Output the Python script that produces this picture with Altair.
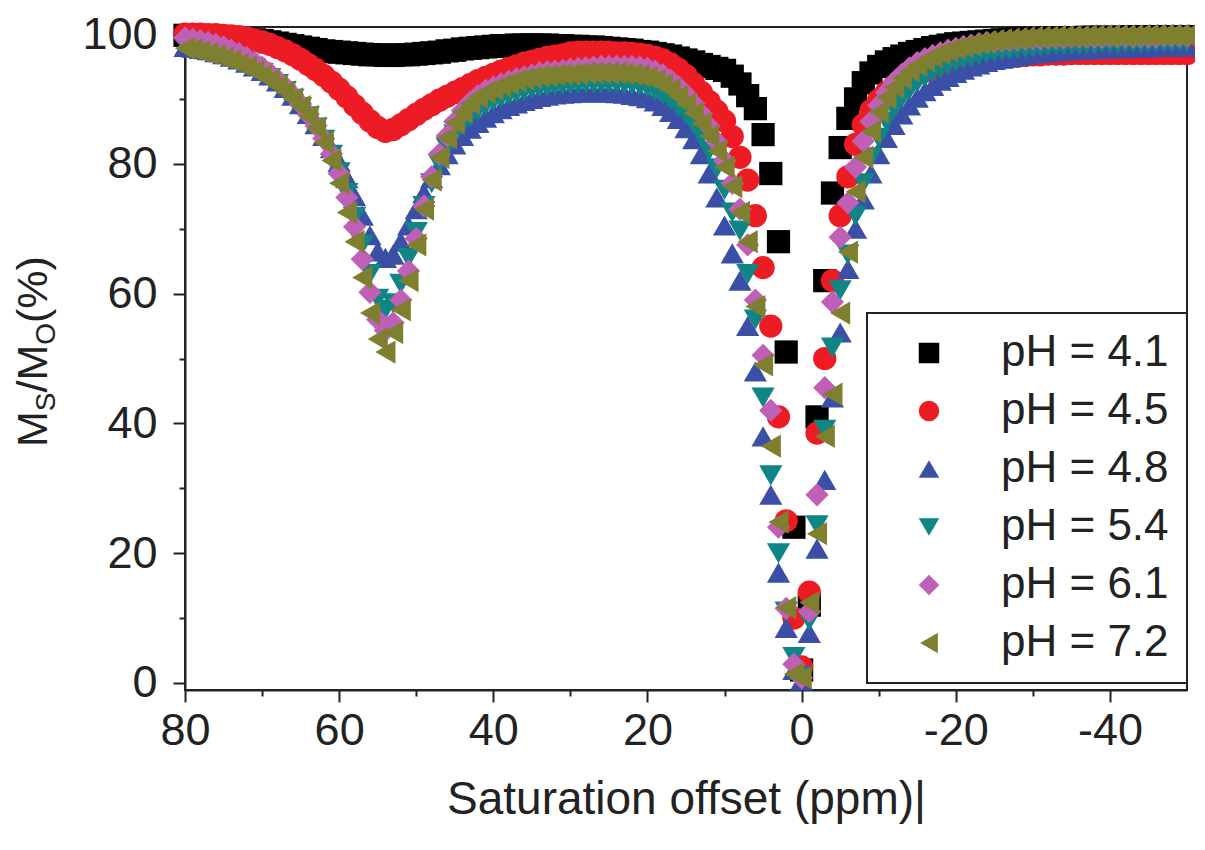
import pandas as pd
import altair as alt

# saturation offsets (ppm), one point per ppm from 80 down to -50
offsets = list(range(80, -51, -1))

labels = ["pH = 4.1", "pH = 4.5", "pH = 4.8", "pH = 5.4", "pH = 6.1", "pH = 7.2"]
colors = ["#000000", "#ED1C24", "#3A4FA5", "#0F8585", "#BF5FB5", "#7F7F30"]
shapes = ["square", "circle", "triangle-up", "triangle-down", "diamond", "triangle-left"]

# Ms/Mo (%), rows of ten offsets: 80-71, 70-61, ... , -40..-49, -50
ph41 = [99.8, 99.8, 99.7, 99.7, 99.6, 99.5, 99.4, 99.3, 99.2, 99.1,
        99.0, 98.8, 98.6, 98.4, 98.2, 98.0, 97.8, 97.6, 97.4, 97.3,
        97.2, 97.1, 97.0, 96.9, 96.8, 96.8, 96.7, 96.7, 96.8, 96.8,
        96.9, 97.0, 97.1, 97.2, 97.4, 97.5, 97.7, 97.8, 97.9, 98.0,
        98.1, 98.2, 98.2, 98.3, 98.3, 98.3, 98.3, 98.3, 98.2, 98.2,
        98.1, 98.1, 98.0, 98.0, 97.9, 97.8, 97.7, 97.6, 97.5, 97.3,
        97.2, 97.0, 96.8, 96.6, 96.3, 96.0, 95.7, 95.3, 95.0, 94.7,
        94.4, 93.5, 92.3, 90.5, 88.5, 84.5, 78.5, 68.0, 51.0, 24.0,
        2.0, 12.0, 41.0, 62.0, 75.5, 82.5, 87.0, 90.0, 92.5, 94.0,
        95.0, 95.7, 96.2, 96.6, 97.0, 97.3, 97.6, 97.9, 98.1, 98.3,
        98.5, 98.6, 98.7, 98.8, 98.9, 99.0, 99.1, 99.1, 99.2, 99.2,
        99.3, 99.3, 99.3, 99.4, 99.4, 99.4, 99.4, 99.5, 99.5, 99.5,
        99.5, 99.5, 99.5, 99.6, 99.6, 99.6, 99.6, 99.6, 99.6, 99.6,
        99.6]

ph45 = [100.0, 100.0, 100.0, 99.9, 99.9, 99.8, 99.7, 99.6, 99.4, 99.1,
        98.8, 98.4, 97.9, 97.4, 96.8, 96.1, 95.3, 94.5, 93.6, 92.6,
        91.5, 90.3, 89.0, 87.8, 86.6, 85.6, 85.0, 85.3, 86.0, 86.8,
        87.6, 88.4, 89.1, 89.8, 90.4, 91.0, 91.6, 92.2, 92.8, 93.3,
        93.8, 94.3, 94.7, 95.1, 95.5, 95.8, 96.1, 96.4, 96.6, 96.8,
        97.1, 97.2, 97.2, 97.2, 97.2, 97.2, 97.1, 97.1, 97.0, 96.9,
        96.7, 96.4, 96.0, 95.4, 94.6, 93.6, 92.3, 91.0, 89.6, 88.1,
        86.6, 84.2, 81.0, 77.5, 72.0, 64.0, 55.0, 41.0, 25.0, 10.0,
        2.5, 14.0, 38.5, 50.0, 62.0, 72.0, 78.0, 83.0, 86.0, 88.2,
        89.8, 91.0, 92.0, 92.8, 93.4, 93.9, 94.3, 94.7, 95.0, 95.3,
        95.5, 95.7, 95.9, 96.1, 96.2, 96.3, 96.4, 96.5, 96.6, 96.7,
        96.8, 96.8, 96.9, 96.9, 96.9, 97.0, 97.0, 97.0, 97.0, 97.0,
        97.0, 97.0, 97.0, 97.0, 97.0, 97.0, 97.0, 97.0, 97.0, 97.0,
        97.0]

ph48 = [98.0, 97.9, 97.7, 97.5, 97.2, 96.9, 96.5, 96.1, 95.6, 95.0,
        94.3, 93.6, 92.7, 91.7, 90.5, 89.2, 87.7, 86.1, 84.3, 82.4,
        80.3, 77.8, 75.0, 72.0, 69.0, 66.5, 65.5, 66.0, 68.0, 70.5,
        73.0, 75.5, 77.8, 79.8, 81.5, 83.0, 84.3, 85.4, 86.3, 87.1,
        87.8, 88.4, 88.9, 89.3, 89.7, 90.0, 90.3, 90.5, 90.7, 90.8,
        90.9, 91.0, 91.0, 91.0, 91.0, 91.0, 90.9, 90.8, 90.6, 90.4,
        90.1, 89.6, 88.9, 88.0, 86.9, 85.5, 83.8, 81.5, 78.5, 74.8,
        70.5, 66.2, 62.0, 55.0, 48.0, 38.0, 29.0, 17.0, 8.5, 2.0,
        0.4, 7.7, 20.7, 31.3, 44.0, 54.0, 63.8, 70.0, 74.5, 78.5,
        81.5, 84.0, 86.0, 87.6, 89.0, 90.2, 91.2, 92.0, 92.8, 93.4,
        94.0, 94.5, 95.0, 95.3, 95.7, 96.0, 96.2, 96.4, 96.6, 96.8,
        97.0, 97.1, 97.2, 97.3, 97.4, 97.5, 97.6, 97.6, 97.7, 97.7,
        97.8, 97.8, 97.8, 97.9, 97.9, 97.9, 98.0, 98.0, 98.0, 98.1,
        98.1]

ph54 = [98.2, 98.0, 97.8, 97.5, 97.2, 96.8, 96.4, 95.9, 95.3, 94.7,
        94.0, 93.2, 92.3, 91.2, 90.0, 88.7, 87.3, 85.6, 83.7, 81.4,
        78.7, 75.5, 71.8, 67.5, 63.0, 59.2, 57.5, 58.5, 61.5, 65.5,
        69.5, 73.5, 77.0, 80.0, 82.5, 84.5, 86.0, 87.2, 88.2, 89.0,
        89.6, 90.1, 90.5, 90.9, 91.2, 91.5, 91.7, 91.9, 92.0, 92.1,
        92.2, 92.3, 92.4, 92.4, 92.4, 92.4, 92.4, 92.3, 92.2, 92.0,
        91.7, 91.2, 90.6, 89.8, 88.8, 87.6, 86.1, 84.2, 82.0, 79.3,
        76.0, 72.5, 69.7, 63.0, 56.0, 44.0, 32.0, 20.0, 11.0, 4.0,
        1.0, 9.6, 24.3, 39.0, 51.7, 60.5, 66.0, 72.0, 77.0, 81.0,
        84.0, 86.5, 88.5, 90.1, 91.4, 92.5, 93.4, 94.1, 94.7, 95.2,
        95.7, 96.1, 96.4, 96.7, 97.0, 97.2, 97.4, 97.5, 97.7, 97.8,
        97.9, 98.0, 98.1, 98.2, 98.2, 98.3, 98.3, 98.4, 98.4, 98.5,
        98.5, 98.5, 98.6, 98.6, 98.6, 98.7, 98.7, 98.7, 98.7, 98.8,
        98.8]

ph61 = [99.4, 99.2, 99.0, 98.7, 98.4, 98.0, 97.5, 97.0, 96.4, 95.7,
        94.9, 94.0, 93.0, 91.9, 90.6, 89.2, 87.6, 85.9, 83.9, 81.5,
        78.5, 74.8, 70.3, 65.3, 60.2, 56.0, 54.3, 55.5, 59.0, 63.5,
        68.5, 73.5, 78.0, 81.5, 84.3, 86.5, 88.2, 89.5, 90.5, 91.3,
        91.8, 92.3, 92.7, 93.1, 93.4, 93.7, 94.0, 94.2, 94.3, 94.4,
        94.6, 94.7, 94.8, 94.9, 95.0, 95.0, 95.0, 95.0, 95.0, 94.9,
        94.7, 94.3, 93.7, 92.9, 91.9, 90.7, 89.3, 87.7, 85.8, 83.4,
        80.5, 77.0, 73.0, 67.5, 59.0, 50.5, 42.0, 24.0, 11.5, 2.9,
        0.8, 11.0, 29.0, 45.5, 58.7, 68.7, 74.0, 79.5, 83.5, 86.5,
        89.0, 91.0, 92.6, 93.8, 94.8, 95.6, 96.2, 96.7, 97.1, 97.5,
        97.8, 98.1, 98.3, 98.5, 98.7, 98.8, 98.9, 99.0, 99.1, 99.2,
        99.3, 99.3, 99.4, 99.4, 99.4, 99.5, 99.5, 99.5, 99.5, 99.5,
        99.6, 99.6, 99.6, 99.6, 99.6, 99.6, 99.6, 99.7, 99.7, 99.7,
        99.7]

ph72 = [97.8, 97.6, 97.3, 97.0, 96.7, 96.3, 95.9, 95.4, 94.9, 94.3,
        93.6, 92.9, 92.0, 91.1, 90.0, 88.8, 87.3, 85.5, 83.3, 80.5,
        77.0, 72.5, 68.0, 62.5, 57.0, 53.0, 51.0, 54.0, 57.5, 62.0,
        67.5, 73.0, 77.5, 81.0, 84.0, 86.3, 88.0, 89.3, 90.3, 91.0,
        91.5, 92.0, 92.4, 92.8, 93.1, 93.3, 93.5, 93.6, 93.7, 93.8,
        93.8, 93.9, 94.0, 94.0, 94.0, 94.0, 94.0, 93.9, 93.8, 93.6,
        93.3, 92.8, 92.2, 91.4, 90.4, 89.2, 87.8, 86.2, 84.3, 82.0,
        79.5, 76.5, 72.5, 68.0, 58.0, 49.0, 36.5, 24.8, 11.6, 1.4,
        0.8, 12.4, 23.0, 38.0, 44.5, 57.0, 66.4, 75.7, 81.0, 85.0,
        88.0, 90.2, 91.8, 93.2, 94.3, 95.2, 95.9, 96.5, 97.0, 97.4,
        97.8, 98.1, 98.4, 98.6, 98.8, 99.0, 99.1, 99.2, 99.3, 99.4,
        99.5, 99.5, 99.5, 99.6, 99.6, 99.6, 99.6, 99.7, 99.7, 99.7,
        99.7, 99.7, 99.7, 99.7, 99.8, 99.8, 99.8, 99.8, 99.8, 99.8,
        99.8]

x_ticks = [80, 70, 60, 50, 40, 30, 20, 10, 0, -10, -20, -30, -40]
y_ticks = [0, 10, 20, 30, 40, 50, 60, 70, 80, 90, 100]

# y title pieces: text, font size, baseline shift (subscripts)
ytitle_parts = [("M", 43, 0), ("S", 28, 8), ("/", 43, 0), ("M", 43, 0), ("O", 28, 8), ("(%)", 43, 0)]
glyph_w = {"M": 0.833, "S": 0.667, "/": 0.278, "O": 0.778, "(": 0.333, "%": 0.889, ")": 0.333}

rows = []
for lab, vals in zip(labels, [ph41, ph45, ph48, ph54, ph61, ph72]):
    assert len(vals) == len(offsets)
    for x, v in zip(offsets, vals):
        rows.append({"offset": x, "ratio": v, "pH": lab})
df = pd.DataFrame(rows)

FONT = "Liberation Sans"
INK = "#222222"

legend = alt.Legend(title=None, orient="none", legendX=682, legendY=286,
                    padding=18, strokeColor=INK, fillColor="white",
                    symbolSize=420, symbolOffset=22, symbolStrokeWidth=0, symbolOpacity=1,
                    labelOffset=50, labelFont=FONT, labelFontSize=44, labelColor=INK,
                    labelLimit=400, rowPadding=14)

major_x = {"condition": {"test": "datum.value % 20 === 0", "value": 12}, "value": 6}
major_y = {"condition": {"test": "datum.value % 20 === 0", "value": 12}, "value": 6}

points = alt.Chart(df).mark_point(filled=True, opacity=1, size=540, strokeWidth=0).encode(
    x=alt.X("offset:Q",
            scale=alt.Scale(domain=[-50, 80], reverse=True, nice=False, zero=False),
            axis=alt.Axis(values=x_ticks, tickSize=major_x, labelFlush=False, labelOverlap=False,
                          labelExpr="datum.value % 20 === 0 ? '' + datum.value : ''",
                          labelPadding=6, title="Saturation offset (ppm)|", titlePadding=24)),
    y=alt.Y("ratio:Q",
            scale=alt.Scale(domain=[-1.08, 101.08], nice=False, zero=False),
            axis=alt.Axis(values=y_ticks, tickSize=major_y, labelFlush=False, labelOverlap=False,
                          labelExpr="datum.value % 20 === 0 ? '' + datum.value : ''",
                          labelPadding=16, title=None)),
    color=alt.Color("pH:N", scale=alt.Scale(domain=labels, range=colors), legend=legend),
    shape=alt.Shape("pH:N", scale=alt.Scale(domain=labels, range=shapes), legend=legend),
)

# y axis title with subscripts, written piece by piece going upwards
layers = [points]
pos = 420
for txt, fs, shift in ytitle_parts:
    piece = alt.Chart(pd.DataFrame({"t": [txt]})).mark_text(
        angle=270, align="left", baseline="alphabetic", font=FONT, fontSize=fs, color=INK
    ).encode(text="t:N", x=alt.value(-138 + shift), y=alt.value(pos))
    layers.append(piece)
    pos -= sum(glyph_w[c] for c in txt) * fs

chart = alt.layer(*layers).properties(
    width=1002, height=663,
    padding={"left": 177, "top": 19, "right": 8, "bottom": 150},
    autosize=alt.AutoSizeParams(type="none"),
    background="white",
).configure_view(
    stroke=INK, strokeWidth=2
).configure_axis(
    grid=False, domainColor=INK, domainWidth=2, tickColor=INK, tickWidth=2,
    labelFont=FONT, labelFontSize=45, labelColor=INK,
    titleFont=FONT, titleFontSize=46, titleFontWeight="normal", titleColor=INK
).configure_legend(
    strokeWidth=2
)

chart.save("out.html", embed_options={"renderer": "svg", "actions": False})
